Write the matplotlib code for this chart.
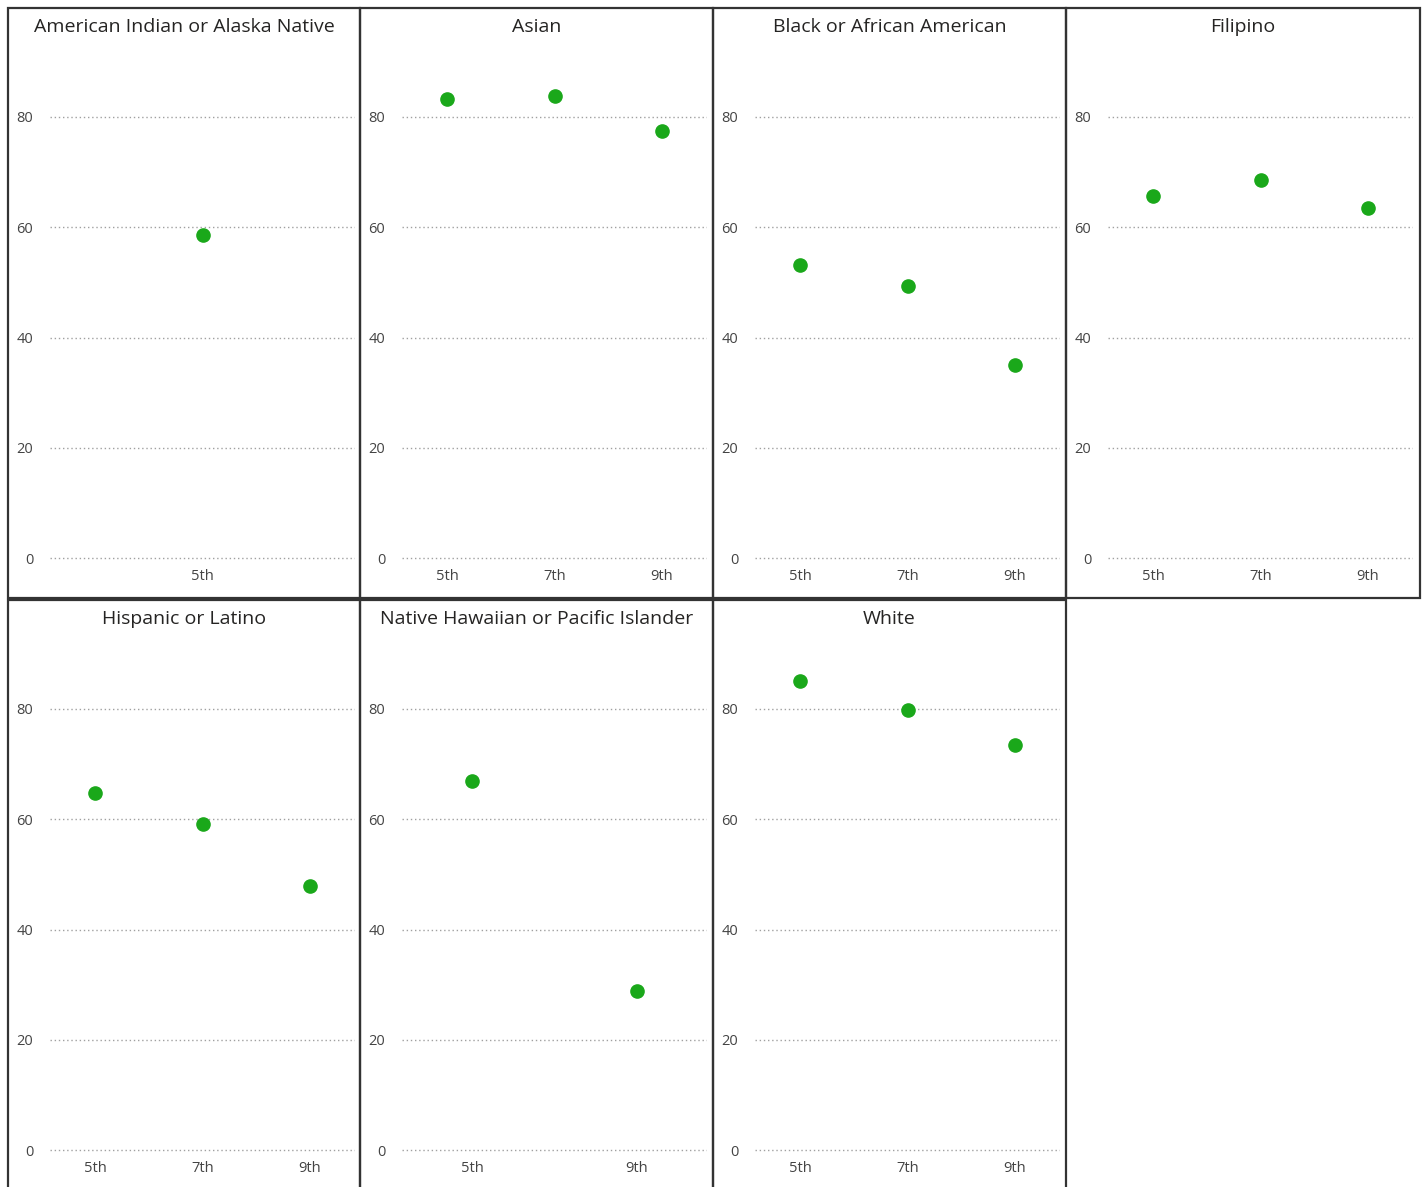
import matplotlib.pyplot as plt
from matplotlib.patches import Rectangle

# Data
groups = [
    "American Indian or Alaska Native",
    "Asian",
    "Black or African American",
    "Filipino",
    "Hispanic or Latino",
    "Native Hawaiian or Pacific Islander",
    "White",
]
grades = [
    ["5th"],
    ["5th", "7th", "9th"],
    ["5th", "7th", "9th"],
    ["5th", "7th", "9th"],
    ["5th", "7th", "9th"],
    ["5th", "9th"],
    ["5th", "7th", "9th"],
]
values = [
    [58.6],
    [83.3, 83.8, 77.5],
    [53.2, 49.3, 35.0],
    [65.7, 68.6, 63.5],
    [64.8, 59.1, 47.9],
    [66.9, 28.8],
    [85.1, 79.8, 73.5],
]
yticks = [0, 20, 40, 60, 80]

W, H = 1426, 1187
DOT = "#1aa81a"
GRID = "#a0a0a0"


def fx(px):
    return px / W


def fy(py):
    return 1 - py / H


def main():
    plt.rcParams["font.family"] = ["Open Sans", "DejaVu Sans"]
    fig = plt.figure(figsize=(W / 100, H / 100), dpi=100)

    col_x = [8, 360, 713, 1066, 1420]
    row_y = [(8, 598), (600, 1200)]

    for i, name in enumerate(groups):
        r, c = divmod(i, 4)
        x0, x1 = col_x[c], col_x[c + 1]
        y0, y1 = row_y[r]

        # panel border
        fig.patches.append(Rectangle((fx(x0), fy(y1)), fx(x1 - x0), (y1 - y0) / H,
                                     transform=fig.transFigure, fill=False,
                                     edgecolor="#333333", linewidth=1.6))
        fig.text(fx((x0 + x1) / 2), fy(y0 + 19), name, ha="center", va="center",
                 fontsize=14, color="#252423")

        # inner plot area: 0 line at y0+550, 80 line at y0+109
        zero = y0 + 550
        top = y0 + 40
        bottom = y0 + 555
        per_unit = (550 - 109) / 80.0
        ytop = (zero - top) / per_unit
        ybot = (zero - bottom) / per_unit
        ax = fig.add_axes([fx(x0 + 42), fy(bottom), fx(305), (bottom - top) / H])
        ax.set_facecolor("none")
        n = len(grades[i])
        ax.set_xlim(-0.425, n - 1 + 0.425)
        ax.set_ylim(ybot, ytop)
        for s in ax.spines.values():
            s.set_visible(False)
        for v in yticks:
            ax.axhline(v, color=GRID, linestyle=(0, (1, 2)), linewidth=1, zorder=1)
        ax.plot(range(n), values[i], "o", color=DOT, markersize=9.5, zorder=3)
        ax.set_xticks(range(n))
        ax.set_xticklabels(grades[i])
        ax.set_yticks(yticks)
        ax.tick_params(length=0, labelsize=10.5, labelcolor="#444444")
        ax.tick_params(axis="x", pad=4)
        ax.tick_params(axis="y", pad=12)

    fig.savefig("out.png", dpi=100)


if __name__ == "__main__":
    main()
